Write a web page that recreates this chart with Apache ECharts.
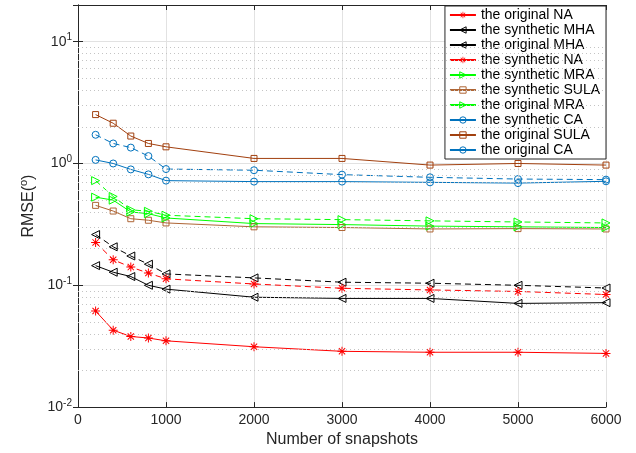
<!DOCTYPE html>
<html>
<head>
<meta charset="utf-8">
<script src="https://cdn.jsdelivr.net/npm/echarts@6/dist/echarts.min.js"></script>
<style>
  html, body { margin: 0; padding: 0; background: #fff; }
  #chart { width: 636px; height: 453px; }
</style>
</head>
<body>
<div id="chart"></div>
<script>
// snapshot counts
var snapshots = [200, 400, 600, 800, 1000, 2000, 3000, 4000, 5000, 6000]

// RMSE values
var origNA = [0.225, 0.162, 0.141, 0.126, 0.113, 0.1025, 0.0945, 0.0916, 0.089, 0.084]
var synNA = [0.0615, 0.0428, 0.038, 0.0369, 0.035, 0.0313, 0.0287, 0.0282, 0.0282, 0.0276]
var origMHA = [0.261, 0.207, 0.174, 0.149, 0.124, 0.115, 0.106, 0.104, 0.1, 0.095]
var synMHA = [0.145, 0.128, 0.118, 0.1, 0.093, 0.0798, 0.078, 0.078, 0.071, 0.072]
var origMRA = [0.723, 0.536, 0.417, 0.405, 0.376, 0.352, 0.346, 0.338, 0.331, 0.325]
var synMRA = [0.529, 0.5, 0.4, 0.387, 0.357, 0.321, 0.315, 0.306, 0.302, 0.298]
var origSULA = [2.52, 2.14, 1.68, 1.46, 1.37, 1.1, 1.1, 0.97, 1.0, 0.97]
var synSULA = [0.453, 0.407, 0.352, 0.342, 0.325, 0.302, 0.298, 0.29, 0.292, 0.29]
var origCA = [1.72, 1.46, 1.35, 1.15, 0.9, 0.88, 0.81, 0.77, 0.745, 0.737]
var synCA = [1.07, 1.0, 0.894, 0.814, 0.723, 0.71, 0.71, 0.7, 0.69, 0.714]

// axis ticks
var xTicks = [0, 1000, 2000, 3000, 4000, 5000, 6000]
var yDecades = [0.01, 0.1, 1]
var yMinorSteps = [2, 3, 4, 5, 6, 7, 8, 9]

var legendOrder = [
  'the original NA', 'the synthetic MHA', 'the original MHA', 'the synthetic NA',
  'the synthetic MRA', 'the synthetic SULA', 'the original MRA', 'the synthetic CA',
  'the original SULA', 'the original CA'
]

// 8-spoke asterisk marker (thin filled spokes)
var asterisk = 'path://M-1.1,-10L1.1,-10L1.1,10L-1.1,10Z M-10,-1.1L10,-1.1L10,1.1L-10,1.1Z ' +
  'M-6.2,-7.8L7.8,6.2L6.2,7.8L-7.8,-6.2Z M-7.8,6.2L6.2,-7.8L7.8,-6.2L-6.2,7.8Z'

var openFill = 'rgba(255,255,255,0)'

function pairs(ys) {
  return snapshots.map(function(x, i) { return [x, ys[i]] })
}

// open markers: transparent fill, thin outline
function makeSeries(name, ys, color, dashed, symbol, size, rotate) {
  var filled = symbol === asterisk
  return {
    name: name,
    type: 'line',
    data: pairs(ys),
    symbol: symbol,
    symbolSize: size,
    symbolRotate: rotate || 0,
    showAllSymbol: true,
    lineStyle: { color: color, width: 1, type: dashed ? [6, 4] : 'solid' },
    itemStyle: filled
      ? { color: color, borderWidth: 0 }
      : { color: openFill, borderColor: color, borderWidth: 1 },
    emphasis: { disabled: true }
  }
}

var minorLines = []
yDecades.forEach(function(d) {
  yMinorSteps.forEach(function(s) { minorLines.push({ yAxis: d * s }) })
})

var axisLineStyle = { color: '#262626', width: 1 }

function supLabel(v) {
  var l = Math.log10(v)
  var e = Math.round(l)
  if (Math.abs(l - e) > 1e-6) return ''
  return '10{sup|' + e + '}'
}

var seriesList = [
  makeSeries('the original SULA', origSULA, '#A2400F', false, 'rect', 6),
  makeSeries('the synthetic SULA', synSULA, '#AE6535', false, 'rect', 6),
  makeSeries('the original CA', origCA, '#0072BD', true, 'circle', 7),
  makeSeries('the synthetic CA', synCA, '#0072BD', false, 'circle', 7),
  makeSeries('the original MRA', origMRA, '#00FF00', true, 'triangle', 8, -90),
  makeSeries('the synthetic MRA', synMRA, '#00FF00', false, 'triangle', 8, -90),
  makeSeries('the original MHA', origMHA, '#000000', true, 'triangle', 8, 90),
  makeSeries('the synthetic MHA', synMHA, '#000000', false, 'triangle', 8, 90),
  makeSeries('the original NA', origNA, '#FF0000', true, asterisk, 9),
  makeSeries('the synthetic NA', synNA, '#FF0000', false, asterisk, 9)
]

// legend entries keep the open marker look
var legendData = legendOrder.map(function(name) {
  var s = seriesList.filter(function(x) { return x.name === name })[0]
  return { name: name, itemStyle: s.itemStyle }
})

var option = {
  animation: false,
  backgroundColor: '#fff',
  grid: { left: 78, right: 30, top: 5, bottom: 41 },
  legend: {
    data: legendData,
    orient: 'vertical',
    right: 30,
    top: 6,
    backgroundColor: '#fff',
    borderColor: '#262626',
    borderWidth: 1,
    borderRadius: 0,
    padding: [2, 6, 2, 4],
    itemWidth: 26,
    itemHeight: 8,
    itemGap: 1,
    lineStyle: { type: 'solid' },
    textStyle: { fontFamily: 'Liberation Sans', fontSize: 14, color: '#000', lineHeight: 14 }
  },
  xAxis: [
    {
      type: 'value',
      min: 0,
      max: 6000,
      interval: 1000,
      name: 'Number of snapshots',
      nameLocation: 'middle',
      nameGap: 20,
      nameTextStyle: { fontFamily: 'Liberation Sans', fontSize: 16, color: '#262626' },
      axisLine: { show: true, lineStyle: axisLineStyle },
      axisTick: { show: true, inside: true, length: 5, lineStyle: axisLineStyle },
      axisLabel: { fontFamily: 'Liberation Sans', fontSize: 14, color: '#262626', margin: 6,
        formatter: function(v) { return xTicks.indexOf(v) >= 0 ? String(v) : '' } },
      splitLine: { show: true, lineStyle: { color: '#e2e2e2', width: 1 } }
    },
    {
      type: 'value',
      position: 'top',
      min: 0,
      max: 6000,
      interval: 1000,
      axisLine: { show: true, lineStyle: axisLineStyle },
      axisTick: { show: true, inside: true, length: 5, lineStyle: axisLineStyle },
      axisLabel: { show: false },
      splitLine: { show: false }
    }
  ],
  yAxis: [
    {
      type: 'log',
      logBase: 10,
      min: 0.01,
      max: 20,
      name: 'RMSE({sup|o})',
      nameLocation: 'middle',
      nameGap: 36,
      nameTextStyle: {
        fontFamily: 'Liberation Sans', fontSize: 16, color: '#262626',
        rich: { sup: { fontFamily: 'Liberation Sans', fontSize: 11, color: '#262626', padding: [0, 0, 9, 0] } }
      },
      axisLine: { show: true, lineStyle: axisLineStyle },
      axisTick: { show: true, inside: true, length: 5, lineStyle: axisLineStyle },
      axisLabel: {
        fontFamily: 'Liberation Sans', fontSize: 14, color: '#262626', margin: 6,
        formatter: supLabel,
        rich: { sup: { fontFamily: 'Liberation Sans', fontSize: 10, color: '#262626', padding: [0, 0, 8, 0] } }
      },
      splitLine: { show: true, lineStyle: { color: '#e2e2e2', width: 1 } }
    },
    {
      type: 'log',
      logBase: 10,
      position: 'right',
      min: 0.01,
      max: 20,
      axisLine: { show: true, lineStyle: axisLineStyle },
      axisTick: { show: true, inside: true, length: 5, lineStyle: axisLineStyle },
      axisLabel: { show: false },
      splitLine: { show: false }
    }
  ],
  series: [
    {
      name: 'minor grid',
      type: 'line',
      data: [],
      silent: true,
      markLine: {
        silent: true,
        symbol: 'none',
        label: { show: false },
        lineStyle: { color: '#c4c4c4', width: 1, type: [1, 3] },
        data: minorLines
      }
    }
  ].concat(seriesList)
}

var chart = echarts.init(document.getElementById('chart'))
chart.setOption(option)
</script>
</body>
</html>
